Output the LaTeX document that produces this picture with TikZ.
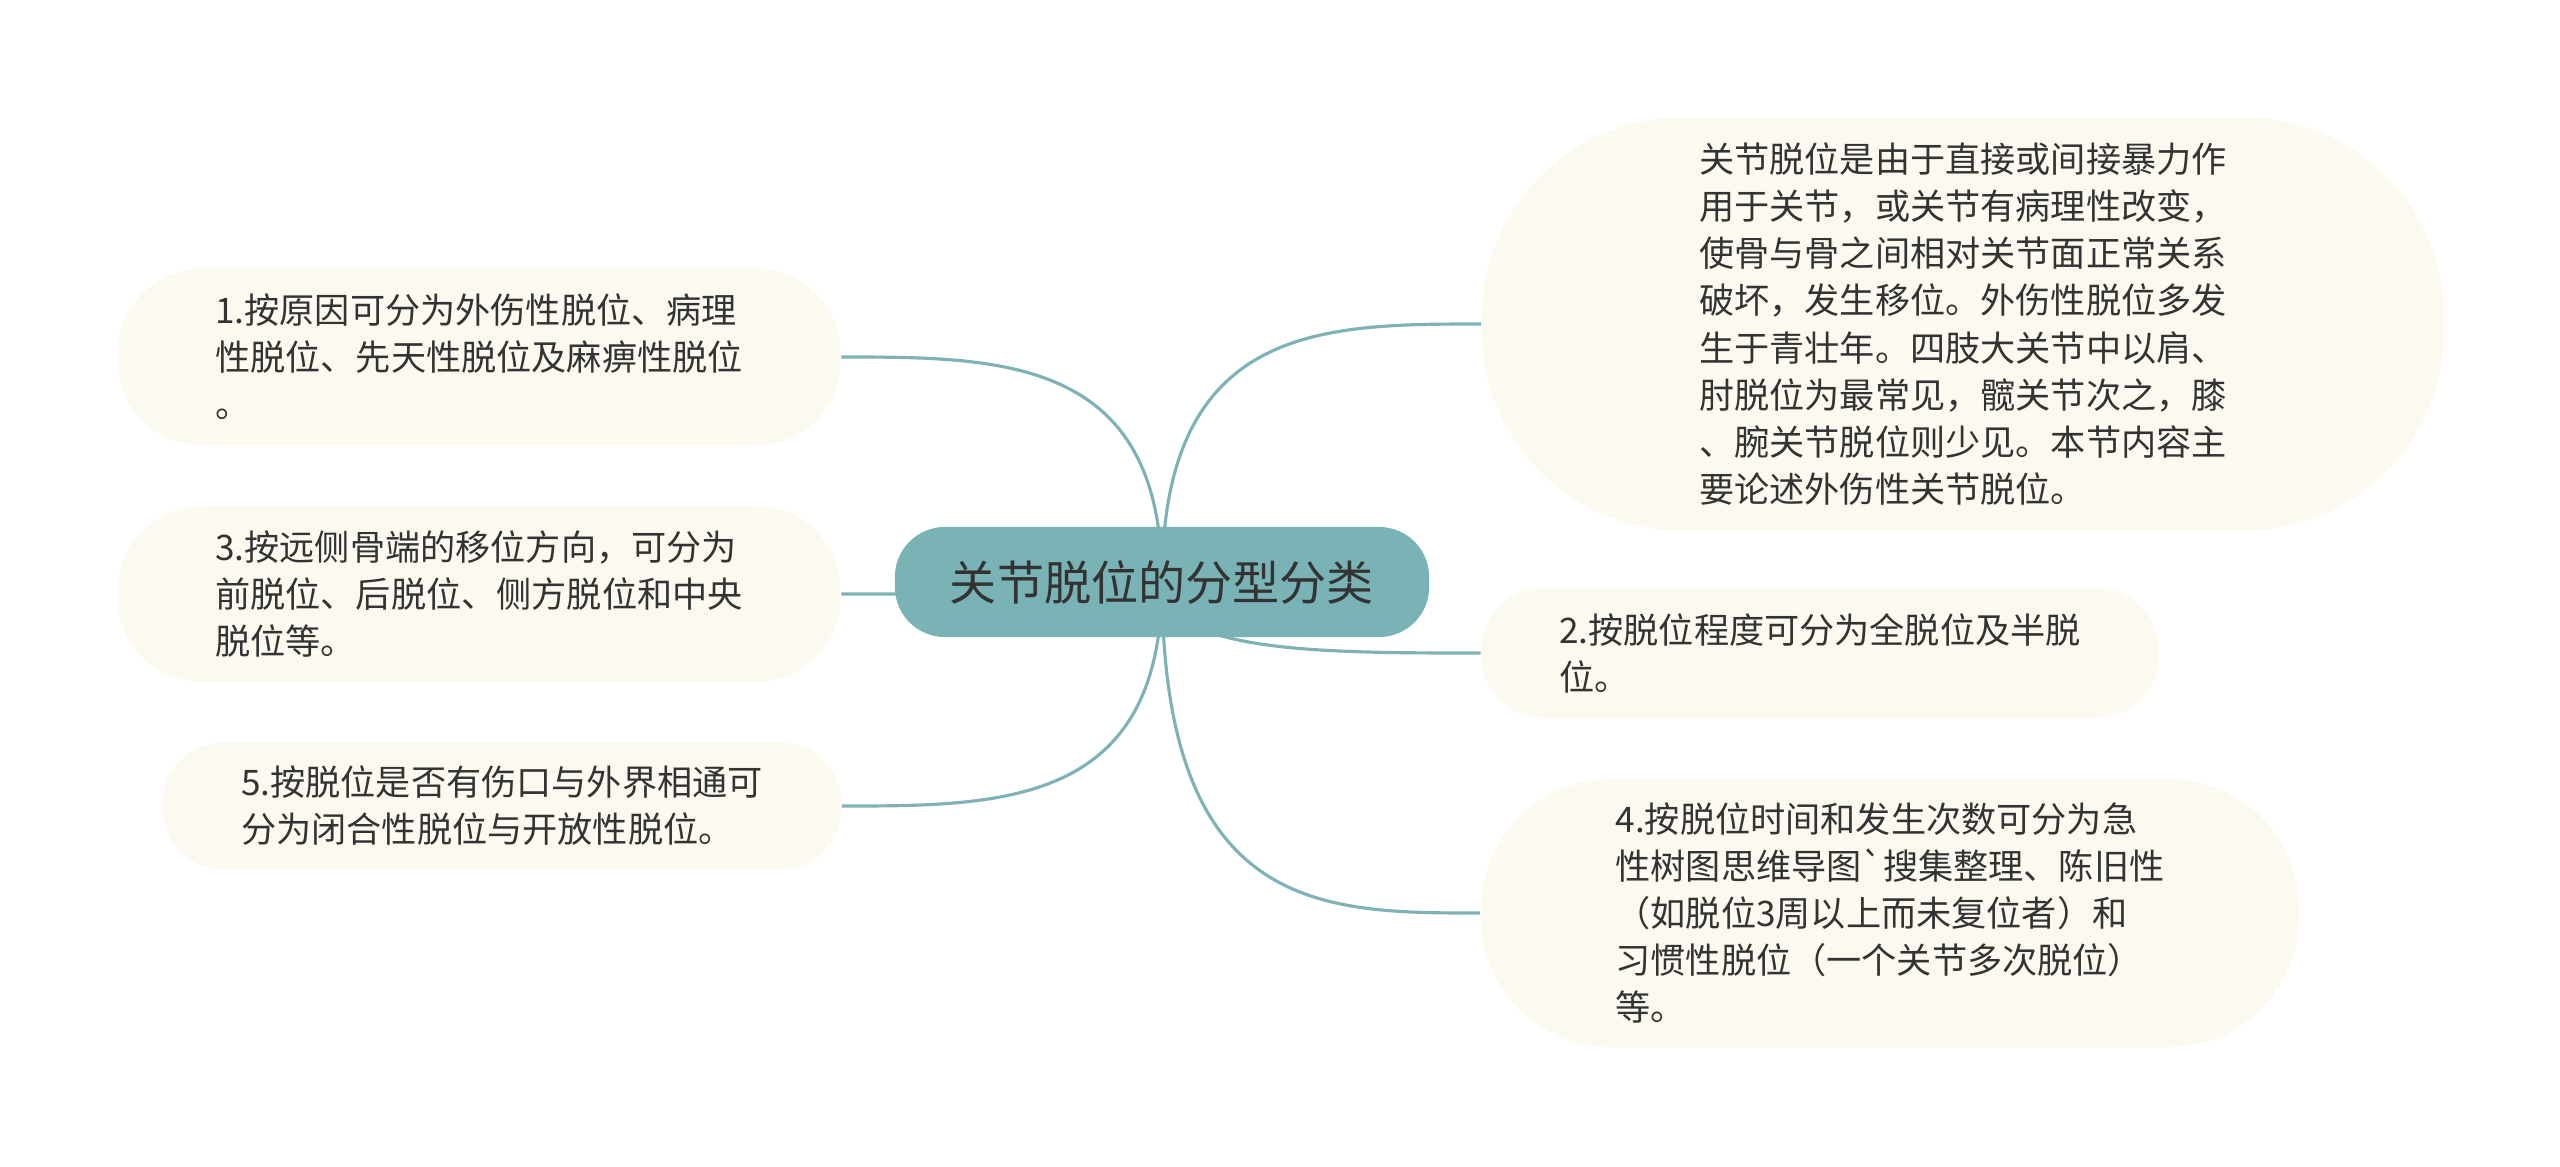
\documentclass[tikz,border=0pt]{standalone}
\usepackage{fontspec}
\newfontfamily\cjk{Noto Sans CJK SC}
\usetikzlibrary{calc,backgrounds}
\definecolor{rootfill}{HTML}{7AB3B5}
\definecolor{branchcol}{HTML}{7FB2B4}
\definecolor{leaffill}{HTML}{FCFAF0}
\definecolor{inkcol}{HTML}{333333}

\begin{document}
\begin{tikzpicture}[x=0.01cm,y=-0.01cm,
  root/.style={fill=rootfill,text=inkcol,inner sep=0pt,rounded corners=0.5cm,
    font=\cjk\fontsize{13.4pt}{16pt}\selectfont},
  leaf/.style={fill=leaffill,text=inkcol,inner sep=0pt,align=left,
    font=\cjk\fontsize{10pt}{13.4pt}\selectfont},
  branch/.style={draw=branchcol,line width=0.9pt}]
\useasboundingbox (0,0) rectangle (2560,1166);
\node[root,minimum width=5.34cm,minimum height=1.10cm] (root) at (1162,582) {关节脱位的分型分类};
\node[leaf,minimum width=9.62cm,minimum height=4.13cm,rounded corners=2cm] (intro) at (1963,324)
  {关节脱位是由于直接或间接暴力作\\用于关节，或关节有病理性改变，\\使骨与骨之间相对关节面正常关系\\破坏，发生移位。外伤性脱位多发\\生于青壮年。四肢大关节中以肩、\\肘脱位为最常见，髋关节次之，膝\\、腕关节脱位则少见。本节内容主\\要论述外伤性关节脱位。};
\node[leaf,minimum width=7.23cm,minimum height=1.77cm,rounded corners=0.85cm] (n1) at (479,357)
  {1.按原因可分为外伤性脱位、病理\\性脱位、先天性脱位及麻痹性脱位\\。};
\node[leaf,minimum width=7.23cm,minimum height=1.76cm,rounded corners=0.85cm] (n3) at (479,594)
  {3.按远侧骨端的移位方向，可分为\\前脱位、后脱位、侧方脱位和中央\\脱位等。};
\node[leaf,minimum width=6.78cm,minimum height=1.27cm,rounded corners=0.6cm] (n5) at (502,806)
  {5.按脱位是否有伤口与外界相通可\\分为闭合性脱位与开放性脱位。};
\node[leaf,minimum width=6.77cm,minimum height=1.30cm,rounded corners=0.62cm] (n2) at (1820,653)
  {2.按脱位程度可分为全脱位及半脱\\位。};
\node[leaf,minimum width=8.18cm,minimum height=2.68cm,rounded corners=1.3cm] (n4) at (1890,913)
  {4.按脱位时间和发生次数可分为急\\性树图思维导图`搜集整理、陈旧性\\（如脱位3周以上而未复位者）和\\习惯性脱位（一个关节多次脱位）\\等。};
\begin{pgfonlayer}{background}
\foreach \n/\a in {n1/east,n3/east,n5/east,intro/west,n2/west,n4/west}
  \draw[branch] (root.center) .. controls (root.center |- \n.\a)
    and ($(root.center |- \n.\a)!0.5!(\n.\a)$) .. (\n.\a);
\end{pgfonlayer}
\end{tikzpicture}
\end{document}
